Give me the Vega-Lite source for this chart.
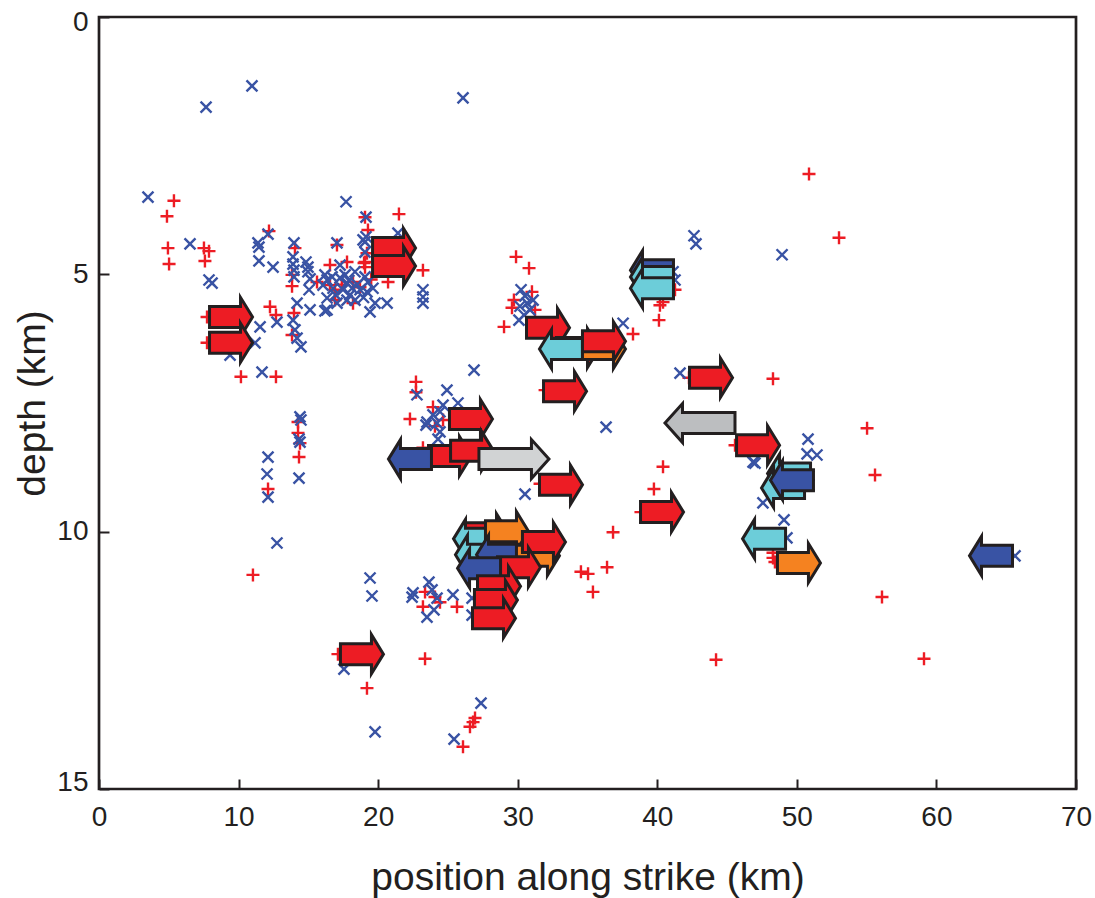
{
  "$schema": "https://vega.github.io/schema/vega-lite/v6.json",
  "width": 977,
  "height": 772,
  "autosize": "none",
  "padding": {"left": 99, "top": 17, "right": 19, "bottom": 109},
  "background": "white",
  "config": {
    "view": {"stroke": "#231f20", "strokeWidth": 2.7},
    "font": "Liberation Sans"
  },
  "datasets": {
    "ev": [
      {"k":"x","x":7.67,"y":1.75},{"k":"x","x":10.96,"y":1.34},{"k":"x","x":26.08,"y":1.57},{"k":"x","x":3.51,"y":3.50},{"k":"x","x":17.70,"y":3.59},
      {"k":"x","x":6.52,"y":4.41},{"k":"x","x":7.88,"y":5.11},{"k":"x","x":8.10,"y":5.17},{"k":"x","x":11.39,"y":4.39},{"k":"x","x":11.46,"y":4.47},
      {"k":"x","x":12.11,"y":4.22},{"k":"x","x":11.46,"y":4.74},{"k":"x","x":12.47,"y":4.86},{"k":"x","x":13.97,"y":4.39},{"k":"x","x":13.90,"y":4.66},
      {"k":"x","x":13.90,"y":4.80},{"k":"x","x":13.97,"y":4.92},{"k":"x","x":13.97,"y":5.05},{"k":"x","x":14.83,"y":4.76},{"k":"x","x":14.97,"y":4.86},
      {"k":"x","x":14.97,"y":4.95},{"k":"x","x":15.12,"y":5.09},{"k":"x","x":15.05,"y":5.30},{"k":"x","x":17.05,"y":4.39},{"k":"x","x":19.13,"y":3.89},
      {"k":"x","x":19.13,"y":4.27},{"k":"x","x":19.06,"y":4.37},{"k":"x","x":19.06,"y":4.57},{"k":"x","x":16.19,"y":5.01},{"k":"x","x":16.34,"y":5.11},
      {"k":"x","x":16.05,"y":5.21},{"k":"x","x":17.27,"y":4.82},{"k":"x","x":17.27,"y":5.07},{"k":"x","x":17.77,"y":5.17},{"k":"x","x":17.48,"y":5.30},
      {"k":"x","x":17.98,"y":5.40},{"k":"x","x":18.34,"y":4.95},{"k":"x","x":19.06,"y":5.05},{"k":"x","x":19.27,"y":5.15},{"k":"x","x":18.70,"y":5.30},
      {"k":"x","x":19.20,"y":5.34},{"k":"x","x":19.63,"y":5.27},{"k":"x","x":19.78,"y":5.56},{"k":"x","x":20.64,"y":5.56},{"k":"x","x":19.42,"y":5.73},
      {"k":"x","x":17.77,"y":5.50},{"k":"x","x":17.05,"y":5.56},{"k":"x","x":16.34,"y":5.46},{"k":"x","x":16.34,"y":5.69},{"k":"x","x":15.12,"y":5.69},
      {"k":"x","x":18.92,"y":4.33},{"k":"x","x":16.77,"y":5.27},{"k":"x","x":18.34,"y":5.50},{"k":"x","x":18.13,"y":5.27},{"k":"x","x":17.63,"y":5.01},
      {"k":"x","x":21.42,"y":4.20},{"k":"x","x":23.21,"y":5.30},{"k":"x","x":23.21,"y":5.44},{"k":"x","x":23.21,"y":5.56},{"k":"x","x":14.19,"y":5.56},
      {"k":"x","x":13.90,"y":5.89},{"k":"x","x":14.04,"y":6.08},{"k":"x","x":14.19,"y":6.24},{"k":"x","x":14.47,"y":6.41},{"k":"x","x":12.75,"y":5.93},
      {"k":"x","x":11.54,"y":6.02},{"k":"x","x":9.39,"y":6.57},{"k":"x","x":11.18,"y":6.33},{"k":"x","x":11.68,"y":6.90},{"k":"x","x":16.19,"y":5.71},
      {"k":"x","x":14.40,"y":7.77},{"k":"x","x":14.47,"y":7.83},{"k":"x","x":14.33,"y":8.20},{"k":"x","x":14.40,"y":8.26},{"k":"x","x":14.33,"y":8.96},
      {"k":"x","x":12.11,"y":8.55},{"k":"x","x":12.04,"y":8.88},{"k":"x","x":12.11,"y":9.33},{"k":"x","x":12.75,"y":10.22},{"k":"x","x":19.42,"y":10.90},
      {"k":"x","x":19.56,"y":11.25},{"k":"x","x":23.64,"y":10.98},{"k":"x","x":22.50,"y":11.19},{"k":"x","x":22.43,"y":11.27},{"k":"x","x":23.86,"y":11.13},
      {"k":"x","x":24.22,"y":11.29},{"k":"x","x":24.00,"y":11.52},{"k":"x","x":23.50,"y":11.66},{"k":"x","x":25.36,"y":11.23},{"k":"x","x":26.73,"y":11.29},
      {"k":"x","x":26.73,"y":11.62},{"k":"x","x":17.55,"y":12.67},{"k":"x","x":22.78,"y":7.34},{"k":"x","x":24.93,"y":7.25},{"k":"x","x":25.72,"y":7.50},
      {"k":"x","x":23.50,"y":7.87},{"k":"x","x":23.93,"y":7.73},{"k":"x","x":24.65,"y":7.54},{"k":"x","x":24.43,"y":7.67},{"k":"x","x":24.22,"y":7.89},
      {"k":"x","x":24.43,"y":8.06},{"k":"x","x":24.29,"y":8.20},{"k":"x","x":23.43,"y":7.93},{"k":"x","x":26.87,"y":6.86},{"k":"x","x":36.33,"y":7.97},
      {"k":"x","x":30.52,"y":9.27},{"k":"x","x":19.78,"y":13.89},{"k":"x","x":25.44,"y":14.03},{"k":"x","x":27.37,"y":13.33},{"k":"x","x":30.24,"y":5.30},
      {"k":"x","x":30.52,"y":5.42},{"k":"x","x":30.67,"y":5.56},{"k":"x","x":30.16,"y":5.62},{"k":"x","x":30.88,"y":5.69},{"k":"x","x":30.45,"y":5.79},
      {"k":"x","x":30.09,"y":5.89},{"k":"x","x":31.10,"y":5.50},{"k":"x","x":37.55,"y":5.95},{"k":"x","x":41.13,"y":4.95},{"k":"x","x":41.27,"y":5.11},
      {"k":"x","x":42.77,"y":4.41},{"k":"x","x":42.63,"y":4.25},{"k":"x","x":48.94,"y":4.62},{"k":"x","x":41.63,"y":6.92},{"k":"x","x":50.80,"y":8.20},
      {"k":"x","x":50.73,"y":8.49},{"k":"x","x":51.44,"y":8.51},{"k":"x","x":46.86,"y":8.65},{"k":"x","x":47.00,"y":8.67},{"k":"x","x":47.57,"y":9.44},
      {"k":"x","x":49.08,"y":9.77},{"k":"x","x":49.29,"y":10.12},{"k":"x","x":65.63,"y":10.47},
      {"k":"x","x":16.70,"y":5.05},{"k":"x","x":17.90,"y":5.12},{"k":"x","x":18.50,"y":5.20},{"k":"x","x":16.95,"y":5.40},{"k":"x","x":18.95,"y":5.45},
      {"k":"p","x":5.37,"y":3.57},{"k":"p","x":4.87,"y":3.87},{"k":"p","x":4.94,"y":4.49},{"k":"p","x":5.02,"y":4.80},{"k":"p","x":7.52,"y":4.49},
      {"k":"p","x":7.88,"y":4.55},{"k":"p","x":7.59,"y":4.74},{"k":"p","x":12.18,"y":4.16},{"k":"p","x":14.04,"y":4.49},{"k":"p","x":13.83,"y":5.01},
      {"k":"p","x":13.83,"y":5.23},{"k":"p","x":17.05,"y":4.43},{"k":"p","x":19.06,"y":3.89},{"k":"p","x":19.27,"y":4.14},{"k":"p","x":18.99,"y":4.78},
      {"k":"p","x":16.55,"y":4.82},{"k":"p","x":17.77,"y":4.76},{"k":"p","x":15.62,"y":5.15},{"k":"p","x":16.55,"y":5.21},{"k":"p","x":16.91,"y":5.30},
      {"k":"p","x":18.20,"y":5.15},{"k":"p","x":18.70,"y":5.25},{"k":"p","x":19.06,"y":4.86},{"k":"p","x":19.20,"y":4.59},{"k":"p","x":19.06,"y":4.76},
      {"k":"p","x":18.20,"y":5.56},{"k":"p","x":16.91,"y":5.50},{"k":"p","x":20.71,"y":5.15},{"k":"p","x":23.21,"y":4.92},{"k":"p","x":21.49,"y":3.83},
      {"k":"p","x":12.25,"y":5.63},{"k":"p","x":12.68,"y":5.79},{"k":"p","x":13.97,"y":5.75},{"k":"p","x":13.83,"y":6.18},{"k":"p","x":10.17,"y":6.99},
      {"k":"p","x":12.68,"y":6.99},{"k":"p","x":14.26,"y":7.87},{"k":"p","x":14.26,"y":8.08},{"k":"p","x":14.40,"y":8.28},{"k":"p","x":14.33,"y":8.55},
      {"k":"p","x":12.11,"y":9.17},{"k":"p","x":11.03,"y":10.84},{"k":"p","x":23.36,"y":11.17},{"k":"p","x":23.21,"y":11.46},{"k":"p","x":24.07,"y":11.27},
      {"k":"p","x":24.43,"y":11.37},{"k":"p","x":25.65,"y":11.46},{"k":"p","x":23.36,"y":12.47},{"k":"p","x":17.12,"y":12.38},{"k":"p","x":22.71,"y":7.09},
      {"k":"p","x":22.71,"y":7.29},{"k":"p","x":22.28,"y":7.81},{"k":"p","x":23.93,"y":7.58},{"k":"p","x":24.65,"y":7.83},{"k":"p","x":24.07,"y":7.95},
      {"k":"p","x":23.21,"y":8.37},{"k":"p","x":30.81,"y":4.88},{"k":"p","x":29.88,"y":4.66},{"k":"p","x":31.02,"y":5.34},{"k":"p","x":31.24,"y":5.69},
      {"k":"p","x":29.73,"y":5.50},{"k":"p","x":29.59,"y":5.65},{"k":"p","x":29.02,"y":6.02},{"k":"p","x":38.26,"y":6.16},{"k":"p","x":40.41,"y":5.54},
      {"k":"p","x":40.19,"y":5.60},{"k":"p","x":40.12,"y":5.89},{"k":"p","x":41.27,"y":5.30},{"k":"p","x":53.02,"y":4.29},{"k":"p","x":50.87,"y":3.05},
      {"k":"p","x":48.29,"y":7.03},{"k":"p","x":55.03,"y":7.99},{"k":"p","x":55.60,"y":8.90},{"k":"p","x":56.10,"y":11.27},{"k":"p","x":59.11,"y":12.47},
      {"k":"p","x":44.21,"y":12.49},{"k":"p","x":40.41,"y":8.74},{"k":"p","x":39.76,"y":9.17},{"k":"p","x":36.83,"y":10.01},{"k":"p","x":36.40,"y":10.69},
      {"k":"p","x":35.04,"y":10.82},{"k":"p","x":35.39,"y":11.17},{"k":"p","x":34.53,"y":10.78},{"k":"p","x":48.29,"y":10.41},{"k":"p","x":48.29,"y":10.51},
      {"k":"p","x":48.43,"y":10.59},{"k":"p","x":19.20,"y":13.04},{"k":"p","x":26.08,"y":14.18},{"k":"p","x":26.80,"y":13.70},{"k":"p","x":26.94,"y":13.62},
      {"k":"p","x":26.58,"y":13.79},{"k":"p","x":31.96,"y":7.25},{"k":"p","x":7.74,"y":5.83},{"k":"p","x":7.74,"y":6.33},{"k":"p","x":31.60,"y":9.07},
      {"k":"p","x":38.83,"y":9.62},{"k":"p","x":42.27,"y":7.01},{"k":"p","x":45.57,"y":8.32},
      {"k":"p","x":17.40,"y":5.20},{"k":"p","x":19.50,"y":5.10}
    ],
    "arr": [
      {"d":"R","c":"red","x":9.46,"y":5.83},
      {"d":"R","c":"red","x":9.46,"y":6.33},
      {"d":"R","c":"red","x":21.14,"y":4.49},
      {"d":"R","c":"red","x":21.14,"y":4.84},
      {"d":"R","c":"red","x":26.65,"y":7.81},
      {"d":"R","c":"red","x":25.15,"y":8.53},
      {"d":"L","c":"blue","x":22.28,"y":8.59},
      {"d":"R","c":"red","x":26.73,"y":8.43},
      {"d":"RL","c":"lgray","x":29.73,"y":8.59},
      {"d":"R","c":"red","x":33.10,"y":9.09},
      {"d":"R","c":"red","x":33.39,"y":7.27},
      {"d":"R","c":"red","x":32.17,"y":6.04},
      {"d":"R","c":"red","x":34.32,"y":6.43},
      {"d":"L","c":"cyan","x":33.10,"y":6.45},
      {"d":"R","c":"orange","x":36.18,"y":6.45},
      {"d":"R","c":"red","x":36.18,"y":6.30},
      {"d":"L","c":"blue","x":39.62,"y":4.92},
      {"d":"L","c":"cyan","x":39.62,"y":5.05},
      {"d":"L","c":"cyan","x":39.62,"y":5.27},
      {"d":"R","c":"red","x":43.85,"y":7.01},
      {"d":"LL","c":"gray","x":43.06,"y":7.89},
      {"d":"R","c":"red","x":47.22,"y":8.32},
      {"d":"L","c":"cyan","x":49.44,"y":8.87},
      {"d":"L","c":"cyan","x":49.01,"y":9.15},
      {"d":"L","c":"blue","x":49.65,"y":9.00},
      {"d":"L","c":"cyan","x":47.65,"y":10.14},
      {"d":"R","c":"orange","x":50.15,"y":10.61},
      {"d":"L","c":"blue","x":63.91,"y":10.47},
      {"d":"R","c":"red","x":18.84,"y":12.38},
      {"d":"R","c":"red","x":40.34,"y":9.62},
      {"d":"R","c":"red","x":27.80,"y":10.03},
      {"d":"L","c":"cyan","x":26.94,"y":10.14},
      {"d":"R","c":"orange","x":29.23,"y":9.99},
      {"d":"L","c":"cyan","x":27.08,"y":10.45},
      {"d":"L","c":"blue","x":28.59,"y":10.45},
      {"d":"R","c":"orange","x":31.45,"y":10.47},
      {"d":"R","c":"red","x":31.88,"y":10.20},
      {"d":"R","c":"red","x":30.09,"y":10.69},
      {"d":"L","c":"blue","x":27.23,"y":10.71},
      {"d":"R","c":"red","x":28.66,"y":11.06},
      {"d":"R","c":"red","x":28.44,"y":11.33},
      {"d":"R","c":"red","x":28.30,"y":11.68}
    ]
  },
  "encoding": {
    "x": {
      "field": "x", "type": "quantitative",
      "scale": {"domain": [0, 70], "nice": false, "zero": false},
      "axis": {
        "values": [0, 10, 20, 30, 40, 50, 60, 70],
        "title": "position along strike (km)",
        "domain": false, "grid": false,
        "tickSize": -10, "tickWidth": 2, "tickColor": "#231f20",
        "labelFontSize": 28, "labelFont": "Liberation Sans", "labelColor": "#231f20",
        "labelPadding": 24, "labelFlush": false, "labelOverlap": false,
        "titleFontSize": 39, "titleFont": "Liberation Sans", "titleFontWeight": "normal",
        "titleColor": "#231f20", "titlePadding": 27
      }
    },
    "y": {
      "field": "y", "type": "quantitative",
      "scale": {"domain": [0, 15], "nice": false, "zero": false, "reverse": true},
      "axis": {
        "values": [0, 5, 10, 15],
        "title": "depth (km)",
        "domain": false, "grid": false,
        "tickSize": -10, "tickWidth": 2, "tickColor": "#231f20",
        "labelFontSize": 28, "labelFont": "Liberation Sans", "labelColor": "#231f20",
        "labelPadding": 21, "labelFlush": false, "labelOverlap": false,
        "labelOffset": {"condition": [{"test": "datum.value === 0", "value": 5}, {"test": "datum.value === 15", "value": -7}], "value": 0},
        "titleFontSize": 39, "titleFont": "Liberation Sans", "titleFontWeight": "normal",
        "titleColor": "#231f20", "titlePadding": 4
      }
    }
  },
  "layer": [
    {
      "data": {"name": "ev"},
      "transform": [{"filter": "datum.k == 'p'"}],
      "mark": {"type": "point", "shape": "M-1,0L1,0M0,-1L0,1", "filled": false, "color": "#ed1c24", "strokeWidth": 2.4, "size": 169, "opacity": 1}
    },
    {
      "data": {"name": "ev"},
      "transform": [{"filter": "datum.k == 'x'"}],
      "mark": {"type": "point", "shape": "M-1,-1L1,1M-1,1L1,-1", "filled": false, "color": "#3953a4", "strokeWidth": 2.4, "size": 121, "opacity": 1}
    },
    {
      "data": {"name": "arr"},
      "mark": {"type": "point", "filled": true, "stroke": "#231f20", "strokeWidth": 3, "size": 400, "opacity": 1, "strokeJoin": "miter"},
      "encoding": {
        "fill": {
          "field": "c", "type": "nominal", "legend": null,
          "scale": {"domain": ["red", "orange", "cyan", "blue", "gray", "lgray"],
                    "range": ["#ed1c24", "#f58220", "#6ccdd9", "#3953a4", "#bcbec0", "#d1d3d4"]}
        },
        "shape": {
          "field": "d", "type": "nominal", "legend": null,
          "scale": {"domain": ["R", "L", "RL", "LL"],
                    "range": [
                      "M-2.15,-1.05L0.95,-1.05L0.95,-1.95L2.15,0L0.95,1.95L0.95,1.05L-2.15,1.05Z",
                      "M2.15,-1.05L-0.95,-1.05L-0.95,-1.95L-2.15,0L-0.95,1.95L-0.95,1.05L2.15,1.05Z",
                      "M-3.5,-1.05L1.75,-1.05L1.75,-1.95L3.5,0L1.75,1.95L1.75,1.05L-3.5,1.05Z",
                      "M3.5,-1.05L-1.75,-1.05L-1.75,-1.95L-3.5,0L-1.75,1.95L-1.75,1.05L3.5,1.05Z"
                    ]}
        }
      }
    }
  ]
}
